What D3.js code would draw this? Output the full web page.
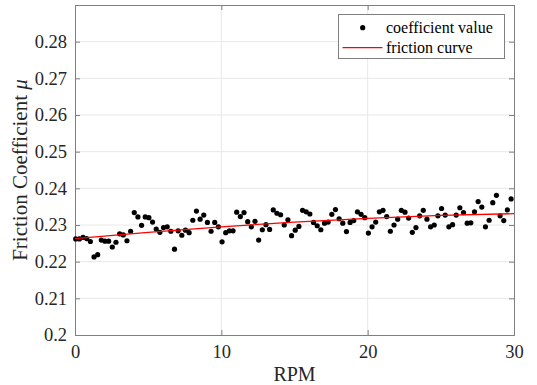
<!DOCTYPE html>
<html>
<head>
<meta charset="utf-8">
<script src="https://cdn.jsdelivr.net/npm/d3@7"></script>
<style>
  html, body { margin: 0; padding: 0; background: #fff; }
  svg { display: block; font-family: "Liberation Serif", "Times New Roman", serif; }
  svg text { font-family: "Liberation Serif", "Times New Roman", serif; }
</style>
</head>
<body>
<div id="chart"></div>
<script>
// measured points (RPM, friction coefficient)
const rpm = [
  0.05, 0.30, 0.55, 0.80, 1.05, 1.30, 1.55, 1.80, 2.05, 2.30,
  2.55, 2.80, 3.05, 3.30, 3.55, 3.80, 4.05, 4.30, 4.55, 4.80,
  5.05, 5.30, 5.55, 5.80, 6.05, 6.30, 6.55, 6.80, 7.05, 7.30,
  7.55, 7.80, 8.05, 8.30, 8.55, 8.80, 9.05, 9.30, 9.55, 9.80,
  10.05, 10.30, 10.55, 10.80, 11.05, 11.30, 11.55, 11.80, 12.05, 12.30,
  12.55, 12.80, 13.05, 13.30, 13.55, 13.80, 14.05, 14.30, 14.55, 14.80,
  15.05, 15.30, 15.55, 15.80, 16.05, 16.30, 16.55, 16.80, 17.05, 17.30,
  17.55, 17.80, 18.05, 18.30, 18.55, 18.80, 19.05, 19.30, 19.55, 19.80,
  20.05, 20.30, 20.55, 20.80, 21.05, 21.30, 21.55, 21.80, 22.05, 22.30,
  22.55, 22.80, 23.05, 23.30, 23.55, 23.80, 24.05, 24.30, 24.55, 24.80,
  25.05, 25.30, 25.55, 25.80, 26.05, 26.30, 26.55, 26.80, 27.05, 27.30,
  27.55, 27.80, 28.05, 28.30, 28.55, 28.80, 29.05, 29.30, 29.55, 29.80
];
const coefficient = [
  0.2262, 0.2262, 0.2266, 0.2263, 0.2255, 0.2213, 0.2219, 0.2259, 0.2256, 0.2256,
  0.2240, 0.2253, 0.2276, 0.2273, 0.2257, 0.2283, 0.2334, 0.2322, 0.2299, 0.2322,
  0.2320, 0.2308, 0.2289, 0.2280, 0.2293, 0.2295, 0.2283, 0.2234, 0.2284, 0.2272,
  0.2286, 0.2279, 0.2313, 0.2338, 0.2316, 0.2327, 0.2307, 0.2283, 0.2307, 0.2295,
  0.2254, 0.2279, 0.2284, 0.2284, 0.2335, 0.2323, 0.2334, 0.2309, 0.2295, 0.2310,
  0.2259, 0.2287, 0.2301, 0.2288, 0.2341, 0.2332, 0.2328, 0.2300, 0.2314, 0.2271,
  0.2286, 0.2296, 0.2340, 0.2336, 0.2330, 0.2307, 0.2298, 0.2287, 0.2305, 0.2308,
  0.2329, 0.2342, 0.2317, 0.2305, 0.2282, 0.2307, 0.2312, 0.2336, 0.2329, 0.2320,
  0.2278, 0.2295, 0.2308, 0.2336, 0.2340, 0.2323, 0.2283, 0.2300, 0.2316, 0.2340,
  0.2335, 0.2319, 0.2280, 0.2293, 0.2325, 0.2340, 0.2316, 0.2295, 0.2300, 0.2325,
  0.2345, 0.2327, 0.2295, 0.2301, 0.2327, 0.2347, 0.2334, 0.2305, 0.2306, 0.2336,
  0.2364, 0.2349, 0.2295, 0.2313, 0.2361, 0.2381, 0.2325, 0.2312, 0.2341, 0.2371
];

// fitted friction curve
const curveRpm = [0, 5, 10, 15, 20, 25, 30];
const curveValue = [0.2263, 0.2280, 0.2295, 0.2308, 0.2318, 0.2326, 0.2331];

const xTicks = [0, 10, 20, 30];
const yTicks = [0.2, 0.21, 0.22, 0.23, 0.24, 0.25, 0.26, 0.27, 0.28];
const legendLabels = ["coefficient value", "friction curve"];

const width = 537, height = 385;
const margin = {top: 5, right: 23, bottom: 50, left: 75};

const svg = d3.select("#chart").append("svg")
  .attr("width", width)
  .attr("height", height);

const x = d3.scaleLinear().domain([0, 30]).range([margin.left, width - margin.right]);
const y = d3.scaleLinear().domain([0.2, 0.29]).range([height - margin.bottom, margin.top]);

const axisColor = "#7f7f7f";
const gridColor = "#e8e8e8";

// grid
svg.append("g").selectAll("line.gx")
  .data(xTicks.slice(1, -1))
  .enter().append("line")
  .attr("x1", d => x(d)).attr("x2", d => x(d))
  .attr("y1", y(0.2)).attr("y2", y(0.29))
  .attr("stroke", gridColor).attr("stroke-width", 1);

svg.append("g").selectAll("line.gy")
  .data(yTicks.slice(1))
  .enter().append("line")
  .attr("x1", x(0)).attr("x2", x(30))
  .attr("y1", d => y(d)).attr("y2", d => y(d))
  .attr("stroke", gridColor).attr("stroke-width", 1);

// axes (ticks point inward)
const fmt = d => String(+d.toFixed(2));
svg.append("g")
  .attr("transform", `translate(0,${y(0.2)})`)
  .call(d3.axisBottom(x).tickValues(xTicks).tickSize(-5).tickPadding(10).tickFormat(fmt));
svg.append("g")
  .attr("transform", `translate(${x(0)},0)`)
  .call(d3.axisLeft(y).tickValues(yTicks).tickSize(-5).tickPadding(8).tickFormat(fmt));
svg.append("g")
  .attr("transform", `translate(0,${y(0.29)})`)
  .call(d3.axisTop(x).tickValues(xTicks).tickSize(-5).tickFormat(""));
svg.append("g")
  .attr("transform", `translate(${x(30)},0)`)
  .call(d3.axisRight(y).tickValues(yTicks).tickSize(-5).tickFormat(""));

// drop d3's default sans-serif on the axis groups
svg.selectAll("g").attr("font-family", null).attr("font-size", null);
svg.selectAll(".domain").attr("stroke", axisColor);
svg.selectAll(".tick line").attr("stroke", axisColor);
svg.selectAll(".tick text")
  .attr("fill", "#262626")
  .style("font-size", "18.5px");

// points
svg.append("g").selectAll("circle")
  .data(rpm.map((r, i) => ({r: r, v: coefficient[i]})))
  .enter().append("circle")
  .attr("cx", d => x(d.r))
  .attr("cy", d => y(d.v))
  .attr("r", 2.6)
  .attr("fill", "#000");

// curve
const line = d3.line()
  .x(d => x(d[0]))
  .y(d => y(d[1]))
  .curve(d3.curveMonotoneX);
svg.append("path")
  .datum(curveRpm.map((r, i) => [r, curveValue[i]]))
  .attr("d", line)
  .attr("fill", "none")
  .attr("stroke", "#ff0000")
  .attr("stroke-width", 1.3);

// axis titles
svg.append("text")
  .attr("x", x(15)).attr("y", 381)
  .attr("text-anchor", "middle")
  .attr("fill", "#262626")
  .style("font-size", "20px")
  .text("RPM");

const yTitle = svg.append("text")
  .attr("transform", `translate(27,${(y(0.2) + y(0.29)) / 2}) rotate(-90)`)
  .attr("text-anchor", "middle")
  .attr("fill", "#262626")
  .style("font-size", "21px");
yTitle.append("tspan").text("Friction Coefficient  ");
yTitle.append("tspan").style("font-style", "italic").text("μ");

// legend
const legend = svg.append("g");
legend.append("rect")
  .attr("x", 338.5).attr("y", 14.5)
  .attr("width", 166).attr("height", 44)
  .attr("fill", "#fff")
  .attr("stroke", axisColor);
legend.append("circle")
  .attr("cx", 362.7).attr("cy", 27.7).attr("r", 2.6).attr("fill", "#000");
legend.append("line")
  .attr("x1", 342.5).attr("x2", 382.5)
  .attr("y1", 47.7).attr("y2", 47.7)
  .attr("stroke", "#ff0000").attr("stroke-width", 1.3);
legend.selectAll("text.lg")
  .data(legendLabels)
  .enter().append("text")
  .attr("x", 386)
  .attr("y", (d, i) => 33 + i * 20)
  .attr("fill", "#000")
  .style("font-size", "16px")
  .text(d => d);
</script>
</body>
</html>
